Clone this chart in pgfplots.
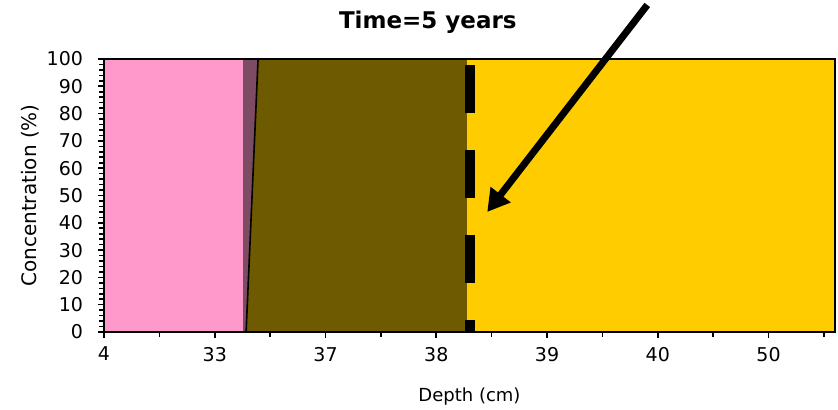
\documentclass[border=0pt]{standalone}
\usepackage{fontspec}
\setmainfont{DejaVu Sans}
\usepackage{pgfplots}
\pgfplotsset{compat=1.18}
\usetikzlibrary{arrows.meta}
\definecolor{cpink}{HTML}{FF99CC}
\definecolor{cband}{HTML}{7D4B64}
\definecolor{colive}{HTML}{6E5A00}
\definecolor{cgold}{HTML}{FFCC00}
\begin{document}
\begin{tikzpicture}
\begin{axis}[
  scale only axis,
  width=365.5pt, height=136.5pt,
  xmin=0, xmax=6.6, ymin=0, ymax=100,
  clip=false,
  axis on top,
  xtick={0,1,2,3,4,5,6},
  xticklabels={4,33,37,38,39,40,50},
  minor xtick={0.5,1.5,2.5,3.5,4.5,5.5,6.5},
  ytick={0,10,...,100},
  minor y tick num=4,
  tick align=outside,
  major tick length=3pt,
  minor tick length=2.5pt,
  tick style={black, line width=0.8pt},
  xtick pos=bottom, ytick pos=left,
  axis line style={black, line width=1.1pt},
  /pgf/number format/assume math mode=true,
  tick label style={font=\fontsize{9.5}{11}\selectfont},
  yticklabel style={xshift=-4pt},
  xticklabel style={yshift=-1pt},
  label style={font=\fontsize{9}{11}\selectfont},
  xlabel={Depth (cm)},
  ylabel={Concentration (\%)},
  xlabel style={at={(axis description cs:0.5,0)}, anchor=center, yshift=-32.5pt},
  ylabel style={at={(axis description cs:-0.1012,0.5)}, anchor=center, font=\fontsize{10}{12}\selectfont},
]
% pink region
\addplot[draw=none, fill=cpink] coordinates {(0,0) (1.256,0) (1.256,100) (0,100)} -- cycle;
% purple band
\addplot[draw=none, fill=cband] coordinates {(1.256,0) (1.283,0) (1.391,100) (1.256,100)} -- cycle;
% olive region
\addplot[draw=none, fill=colive] coordinates {(1.283,0) (3.28,0) (3.28,100) (1.391,100)} -- cycle;
% gold region
\addplot[draw=none, fill=cgold] coordinates {(3.28,0) (6.6,0) (6.6,100) (3.28,100)} -- cycle;
% thin boundary line
\addplot[black, line width=0.8pt] coordinates {(1.283,0) (1.391,100)};
% dashed front
\addplot[black, line width=5pt, dash pattern=on 24pt off 18.5pt, dash phase=39.5pt] coordinates {(3.30,100) (3.30,0)};
% arrow
\draw[black, line width=3.5pt, -{Triangle[length=11pt,width=12pt]}] (axis cs:4.905,119.8) -- (axis cs:3.46,43.96);
\node[font=\bfseries\fontsize{11.5}{13}\selectfont] at (rel axis cs:0.443,1.136) {Time=5 years};
\end{axis}
\pgfresetboundingbox
\path[use as bounding box] (current axis.south west) ++(-52pt,-39pt) rectangle ++(419pt,205pt);
\end{tikzpicture}
\end{document}
